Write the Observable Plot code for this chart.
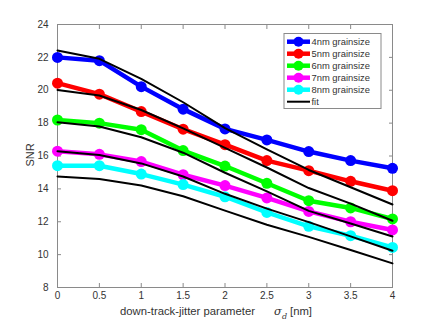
<!DOCTYPE html>
<html>
<head>
<meta charset="utf-8">
<script src="https://cdn.jsdelivr.net/npm/d3@7"></script>
<script src="https://cdn.jsdelivr.net/npm/@observablehq/plot@0.6"></script>
<style>
  body { margin: 0; background: #fff; }
  #chart { width: 432px; height: 324px; }
</style>
</head>
<body>
<div id="chart"></div>
<script>
const sigma = [0, 0.5, 1, 1.5, 2, 2.5, 3, 3.5, 4];
const seriesNames = ["4nm grainsize", "5nm grainsize", "6nm grainsize", "7nm grainsize", "8nm grainsize"];
const seriesColors = ["#0000ff", "#ff0000", "#00ff00", "#ff00ff", "#00ffff"];
const snr4 = [22.0, 21.8, 20.22, 18.85, 17.65, 16.98, 16.27, 15.72, 15.25];
const snr5 = [20.43, 19.76, 18.7, 17.63, 16.69, 15.72, 15.11, 14.46, 13.89];
const snr6 = [18.19, 18.0, 17.6, 16.33, 15.39, 14.34, 13.28, 12.84, 12.17];
const snr7 = [16.29, 16.1, 15.66, 14.86, 14.2, 13.45, 12.63, 12.0, 11.5];
const snr8 = [15.41, 15.41, 14.9, 14.26, 13.52, 12.57, 11.72, 11.15, 10.44];
const fit4 = [22.42, 21.91, 20.69, 19.27, 17.7, 16.4, 15.15, 14.1, 13.05];
const fit5 = [20.02, 19.68, 18.8, 17.68, 16.49, 15.3, 14.05, 13.1, 12.06];
const fit6 = [18.05, 17.79, 17.14, 16.2, 14.98, 13.85, 12.66, 11.89, 11.1];
const fit7 = [16.29, 16.06, 15.55, 14.75, 13.7, 12.8, 11.98, 11.11, 10.24];
const fit8 = [14.76, 14.6, 14.2, 13.55, 12.68, 11.82, 11.08, 10.28, 9.47];
const xTicks = [0, 0.5, 1, 1.5, 2, 2.5, 3, 3.5, 4];
const yTicks = [8, 10, 12, 14, 16, 18, 20, 22, 24];
const fitLabel = "fit";

const snrSeries = [snr4, snr5, snr6, snr7, snr8];
const fitSeries = [fit4, fit5, fit6, fit7, fit8];
const data = [];
const fits = [];
seriesNames.forEach((name, i) => {
  sigma.forEach((s, j) => {
    data.push({series: name, sigma: s, snr: snrSeries[i][j]});
    fits.push({series: name, sigma: s, snr: fitSeries[i][j]});
  });
});

const axisColor = "#8a8a8a";
const textColor = "#333";
const font = "'Liberation Sans', Arial, sans-serif";

const svg = Plot.plot({
  width: 432,
  height: 324,
  marginLeft: 57,
  marginRight: 40,
  marginTop: 24,
  marginBottom: 37,
  style: {fontFamily: font, fontSize: "10px", color: textColor, background: "#fff"},
  x: {domain: [0, 4]},
  y: {domain: [8, 24]},
  color: {domain: seriesNames, range: seriesColors},
  marks: [
    Plot.frame({stroke: axisColor}),
    Plot.axisX({ticks: xTicks, tickSize: -4, tickPadding: 8, stroke: axisColor, fill: textColor, label: null, tickFormat: d => String(d)}),
    Plot.axisX({anchor: "top", ticks: xTicks, tickSize: -4, stroke: axisColor, label: null, tickFormat: () => ""}),
    Plot.axisY({ticks: yTicks, tickSize: -4, tickPadding: 13, stroke: axisColor, fill: textColor, label: null}),
    Plot.axisY({anchor: "right", ticks: yTicks, tickSize: -4, stroke: axisColor, label: null, tickFormat: () => ""}),
    Plot.line(data, {x: "sigma", y: "snr", z: "series", stroke: "series", strokeWidth: 4.5, strokeLinejoin: "round"}),
    Plot.dot(data, {x: "sigma", y: "snr", fill: "series", r: 5.5}),
    Plot.line(fits, {x: "sigma", y: "snr", z: "series", stroke: "black", strokeWidth: 2})
  ]
});

const s = d3.select(svg);
// y label
s.append("text")
  .attr("transform", "translate(34,155) rotate(-90)")
  .attr("text-anchor", "middle")
  .attr("font-family", font).attr("font-size", 11).attr("fill", textColor)
  .text("SNR");
// x label
const xl = s.append("text")
  .attr("text-anchor", "start")
  .attr("font-family", font).attr("font-size", 11.3).attr("fill", textColor);
xl.append("tspan").attr("x", 120).attr("y", 315).text("down-track-jitter parameter");
xl.append("tspan").attr("x", 274).attr("y", 315).attr("font-style", "italic").attr("font-family", "'DejaVu Serif', serif").text("σ");
xl.append("tspan").attr("x", 282).attr("y", 318.5).attr("font-style", "italic").attr("font-size", 8).attr("font-family", "'DejaVu Serif', serif").text("d");
xl.append("tspan").attr("x", 290).attr("y", 315).text("[nm]");

// legend
const lg = s.append("g").attr("text-anchor", "start");
lg.append("rect").attr("x", 284).attr("y", 33.5).attr("width", 97).attr("height", 75)
  .attr("fill", "#fff").attr("stroke", axisColor);
const legendItems = seriesNames.map((n, i) => ({name: n, color: seriesColors[i], dot: true}))
  .concat([{name: fitLabel, color: "black", dot: false}]);
legendItems.forEach((it, i) => {
  const y = 41.7 + i * 12;
  lg.append("line").attr("x1", 287).attr("x2", 310).attr("y1", y).attr("y2", y)
    .attr("stroke", it.color).attr("stroke-width", it.dot ? 4.5 : 2);
  if (it.dot) lg.append("circle").attr("cx", 298.5).attr("cy", y).attr("r", 5).attr("fill", it.color);
  lg.append("text").attr("x", 311.5).attr("y", y).attr("dy", "0.35em").attr("text-anchor", "start")
    .attr("font-family", font).attr("font-size", 9.4).attr("fill", textColor).text(it.name);
});

document.getElementById("chart").appendChild(svg);
</script>
</body>
</html>
